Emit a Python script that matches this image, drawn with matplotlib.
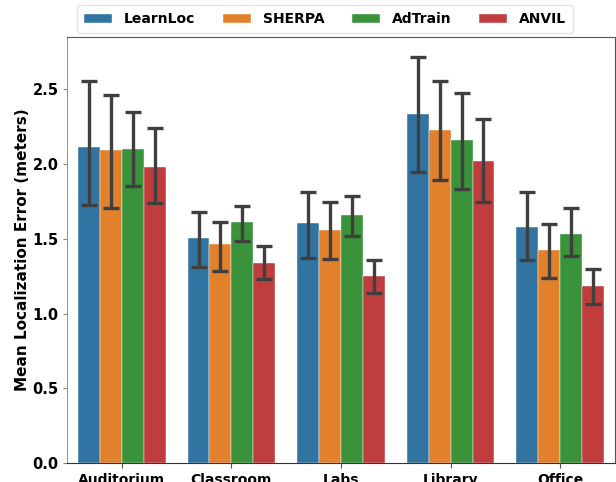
import matplotlib
matplotlib.use("Agg")
import matplotlib.pyplot as plt
import numpy as np

plt.rcParams["font.family"] = "DejaVu Sans"
plt.rcParams["font.weight"] = "bold"

locations = ["Auditorium", "Classroom", "Labs", "Library", "Office"]
methods = ["LearnLoc", "SHERPA", "AdTrain", "ANVIL"]
colors = ["#3274a1", "#e1812c", "#3a923a", "#c03d3e"]

learnloc = [2.115, 1.506, 1.604, 2.337, 1.578]
learnloc_lo = [1.729, 1.312, 1.372, 1.947, 1.355]
learnloc_hi = [2.555, 1.682, 1.814, 2.716, 1.814]

sherpa = [2.097, 1.462, 1.562, 2.226, 1.428]
sherpa_lo = [1.709, 1.286, 1.364, 1.892, 1.241]
sherpa_hi = [2.460, 1.613, 1.747, 2.553, 1.600]

adtrain = [2.099, 1.609, 1.656, 2.161, 1.535]
adtrain_lo = [1.852, 1.488, 1.519, 1.834, 1.384]
adtrain_hi = [2.348, 1.722, 1.787, 2.473, 1.705]

anvil = [1.979, 1.341, 1.248, 2.019, 1.183]
anvil_lo = [1.740, 1.234, 1.136, 1.745, 1.063]
anvil_hi = [2.241, 1.450, 1.355, 2.300, 1.297]

means = [learnloc, sherpa, adtrain, anvil]
lows = [learnloc_lo, sherpa_lo, adtrain_lo, anvil_lo]
highs = [learnloc_hi, sherpa_hi, adtrain_hi, anvil_hi]


def main() -> None:
    fig = plt.figure(figsize=(6.16, 4.82), dpi=100)
    ax = fig.add_axes([67 / 616, 19 / 482, 548 / 616, 426 / 482])

    x = np.arange(len(locations))
    width = 0.8 / len(methods)
    for i, name in enumerate(methods):
        pos = x - 0.4 + width * (i + 0.5)
        m = np.array(means[i])
        err = [m - np.array(lows[i]), np.array(highs[i]) - m]
        ax.bar(pos, m, width, color=colors[i], label=name,
               edgecolor="white", linewidth=0.3)
        ax.errorbar(pos, m, yerr=err, fmt="none", ecolor="#3f3f3f",
                    elinewidth=2.4, capsize=5.5, capthick=2.4)

    ax.set_xlim(-0.5, 4.5)
    ax.set_ylim(0, 2.85)
    ax.set_xticks(x)
    ax.set_xticklabels(locations, fontsize=10, fontweight="bold")
    ax.set_yticks([0, 0.5, 1.0, 1.5, 2.0, 2.5])
    ax.set_yticklabels(["0.0", "0.5", "1.0", "1.5", "2.0", "2.5"],
                       fontsize=10.5, fontweight="bold")
    ax.tick_params(axis="y", length=3, pad=3, color="#888888")
    ax.tick_params(axis="x", color="#555555")
    ax.set_ylabel("Mean Localization Error (meters)", fontsize=11,
                  fontweight="bold", labelpad=2)
    for s in ax.spines.values():
        s.set_color("#555555")
    ax.spines["left"].set_color("#999999")
    ax.spines["bottom"].set_color("#333333")

    ax.legend(loc="upper center", bbox_to_anchor=(0.471, 1.091),
              ncol=4, frameon=True, prop={"weight": "bold", "size": 10},
              handlelength=2.0, handleheight=0.6, handletextpad=0.85,
              columnspacing=2.0, borderpad=0.5, edgecolor="#dddddd")

    fig.savefig("out.png", dpi=100)


main() if __name__ == "__main__" else None
